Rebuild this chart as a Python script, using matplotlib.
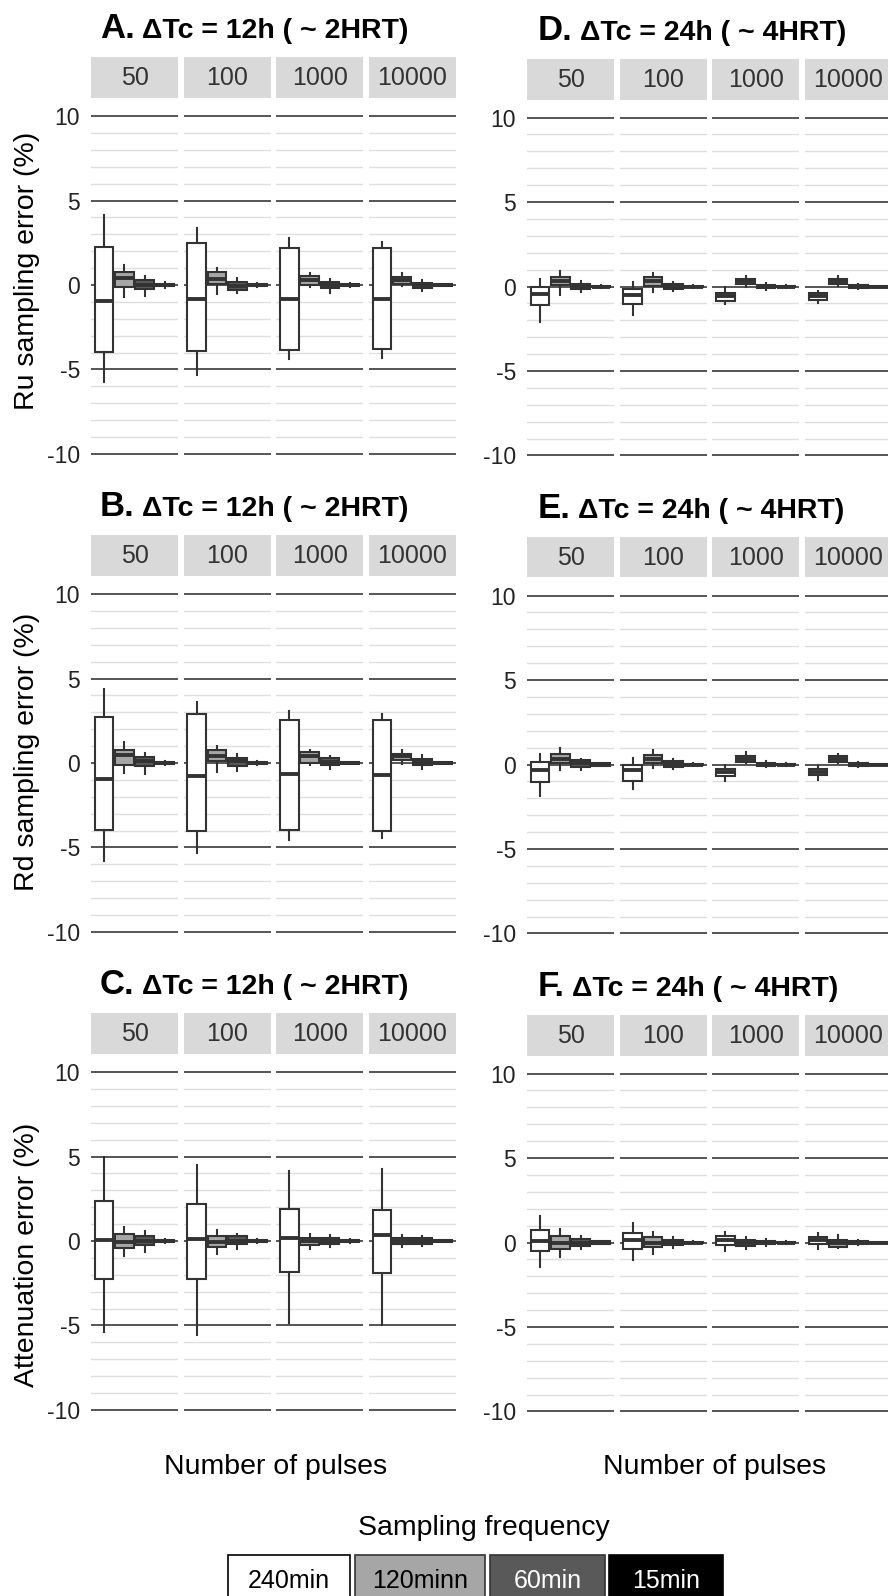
import matplotlib.pyplot as plt
from matplotlib.patches import Rectangle

plt.rcParams['font.family'] = ['Liberation Sans', 'DejaVu Sans']
plt.rcParams['axes.unicode_minus'] = False

# facets (number of pulses) and box groups (sampling frequency)
pulses = ['50', '100', '1000', '10000']
freqs = ['240min', '120minn', '60min', '15min']
freq_colors = ['#ffffff', '#a6a6a6', '#595959', '#000000']

# each panel: one row per pulse count, one (whisker low, q1, median, q3, whisker high) per frequency
ru_12h = [
    [(-5.72, -3.95, -0.93, 2.27, 4.14), (-0.69, -0.14, 0.40, 0.75, 1.18), (-0.65, -0.25, 0.0, 0.30, 0.53), (-0.15, -0.06, 0.0, 0.06, 0.15)],
    [(-5.33, -3.90, -0.85, 2.50, 3.35), (-0.53, 0.06, 0.34, 0.79, 0.99), (-0.45, -0.30, -0.05, 0.20, 0.40), (-0.12, -0.05, 0.0, 0.05, 0.12)],
    [(-4.40, -3.85, -0.85, 2.20, 2.76), (-0.14, -0.02, 0.30, 0.53, 0.73), (-0.45, -0.20, -0.02, 0.16, 0.34), (-0.10, -0.04, 0.0, 0.04, 0.10)],
    [(-4.34, -3.80, -0.85, 2.17, 2.56), (-0.06, 0.06, 0.30, 0.45, 0.69), (-0.35, -0.20, -0.03, 0.14, 0.30), (-0.08, -0.03, 0.0, 0.03, 0.08)],
]
rd_12h = [
    [(-5.78, -3.98, -0.94, 2.71, 4.41), (-0.59, -0.10, 0.49, 0.78, 1.27), (-0.63, -0.16, 0.10, 0.33, 0.59), (-0.12, -0.06, 0.0, 0.06, 0.12)],
    [(-5.35, -4.04, -0.78, 2.90, 3.63), (-0.53, 0.10, 0.39, 0.78, 0.98), (-0.45, -0.16, 0.10, 0.29, 0.53), (-0.10, -0.05, 0.0, 0.05, 0.10)],
    [(-4.57, -3.96, -0.65, 2.55, 3.10), (-0.10, 0.0, 0.39, 0.63, 0.78), (-0.35, -0.14, 0.06, 0.27, 0.43), (-0.08, -0.04, 0.0, 0.04, 0.08)],
    [(-4.45, -4.02, -0.69, 2.55, 2.90), (-0.04, 0.20, 0.39, 0.55, 0.78), (-0.35, -0.12, 0.06, 0.25, 0.49), (-0.08, -0.03, 0.0, 0.03, 0.08)],
]
att_12h = [
    [(-5.38, -2.23, 0.04, 2.35, 4.97), (-0.91, -0.39, -0.06, 0.39, 0.83), (-0.65, -0.26, 0.0, 0.28, 0.57), (-0.12, -0.08, 0.0, 0.08, 0.12)],
    [(-5.58, -2.23, 0.14, 2.21, 4.48), (-0.75, -0.35, -0.06, 0.32, 0.67), (-0.45, -0.20, 0.0, 0.28, 0.43), (-0.10, -0.06, 0.0, 0.06, 0.10)],
    [(-4.86, -1.83, 0.20, 1.91, 4.14), (-0.45, -0.26, 0.0, 0.20, 0.43), (-0.35, -0.20, 0.0, 0.18, 0.34), (-0.10, -0.06, 0.0, 0.06, 0.10)],
    [(-5.00, -1.89, 0.34, 1.85, 4.28), (-0.35, -0.20, 0.0, 0.20, 0.35), (-0.30, -0.18, 0.0, 0.18, 0.30), (-0.08, -0.05, 0.0, 0.05, 0.08)],
]
ru_24h = [
    [(-2.10, -1.12, -0.47, -0.04, 0.45), (-0.53, 0.06, 0.30, 0.59, 0.94), (-0.30, -0.16, 0.0, 0.16, 0.30), (-0.10, -0.05, 0.0, 0.05, 0.10)],
    [(-1.71, -1.06, -0.49, -0.16, 0.26), (-0.30, 0.02, 0.30, 0.55, 0.79), (-0.25, -0.14, 0.0, 0.16, 0.25), (-0.08, -0.04, 0.0, 0.04, 0.08)],
    [(-1.06, -0.83, -0.59, -0.39, 0.0), (0.0, 0.12, 0.30, 0.43, 0.65), (-0.20, -0.08, 0.0, 0.10, 0.20), (-0.06, -0.03, 0.0, 0.03, 0.06)],
    [(-0.98, -0.77, -0.59, -0.39, -0.24), (0.04, 0.12, 0.30, 0.43, 0.65), (-0.15, -0.08, 0.0, 0.08, 0.15), (-0.05, -0.03, 0.0, 0.03, 0.05)],
]
rd_24h = [
    [(-1.86, -1.06, -0.33, 0.12, 0.65), (-0.33, 0.10, 0.35, 0.65, 1.00), (-0.33, -0.14, 0.06, 0.25, 0.35), (-0.10, -0.06, 0.0, 0.06, 0.10)],
    [(-1.47, -0.96, -0.33, -0.04, 0.39), (-0.18, 0.10, 0.33, 0.59, 0.88), (-0.27, -0.14, 0.04, 0.22, 0.35), (-0.08, -0.04, 0.0, 0.04, 0.08)],
    [(-0.98, -0.69, -0.45, -0.24, 0.0), (0.06, 0.14, 0.33, 0.53, 0.75), (-0.15, -0.08, 0.0, 0.10, 0.20), (-0.06, -0.03, 0.0, 0.03, 0.06)],
    [(-0.92, -0.63, -0.43, -0.24, -0.10), (0.06, 0.14, 0.33, 0.49, 0.65), (-0.12, -0.06, 0.0, 0.08, 0.15), (-0.05, -0.03, 0.0, 0.03, 0.05)],
]
att_24h = [
    [(-1.46, -0.53, 0.06, 0.75, 1.57), (-0.87, -0.39, 0.0, 0.39, 0.79), (-0.39, -0.20, 0.0, 0.20, 0.39), (-0.10, -0.06, 0.0, 0.06, 0.10)],
    [(-1.02, -0.37, 0.12, 0.59, 1.18), (-0.67, -0.28, 0.0, 0.31, 0.65), (-0.30, -0.16, 0.0, 0.16, 0.30), (-0.08, -0.05, 0.0, 0.05, 0.08)],
    [(-0.49, -0.14, 0.16, 0.39, 0.63), (-0.39, -0.20, -0.04, 0.12, 0.35), (-0.20, -0.10, 0.0, 0.10, 0.20), (-0.06, -0.04, 0.0, 0.04, 0.06)],
    [(-0.37, -0.10, 0.16, 0.31, 0.55), (-0.33, -0.24, -0.04, 0.12, 0.45), (-0.15, -0.08, 0.0, 0.08, 0.15), (-0.05, -0.03, 0.0, 0.03, 0.05)],
]

panel_letters = ['A.', 'B.', 'C.', 'D.', 'E.', 'F.']
subtitles = ['ΔTc = 12h ( ~ 2HRT)'] * 3 + ['ΔTc = 24h ( ~ 4HRT)'] * 3
ylabels = ['Ru sampling error (%)', 'Rd sampling error (%)', 'Attenuation error (%)']
panels = [ru_12h, rd_12h, att_12h, ru_24h, rd_24h, att_24h]
yticks = [-10, -5, 0, 5, 10]

W, H = 888, 1596
fig = plt.figure(figsize=(W / 100, H / 100), dpi=100)

# overlay in pixel units for titles, labels and legend
ov = fig.add_axes([0, 0, 1, 1])
ov.set_xlim(0, W)
ov.set_ylim(H, 0)
ov.axis('off')


def px_rect(x, y, w, h):
    return [x / W, 1 - (y + h) / H, w / W, h / H]


col_x = [91, 527]
row_y = [57, 535, 1013]
facet_w, facet_step = 87, 92.6
strip_h, panel_h = 41, 374
ylab_y = [271, 752, 1255]

fig.canvas.draw()
renderer = fig.canvas.get_renderer()

for p, data in enumerate(panels):
    col, row = divmod(p, 3)
    x0 = col_x[col]
    y0 = row_y[row] + (1.5 if col == 1 else 0)

    # title: bold panel letter followed by the subtitle
    letter = ov.text(x0 + 9 + (2 if col == 1 else 0), y0 - 19, panel_letters[p], fontsize=25,
                     fontweight='bold', ha='left', va='baseline')
    bb = letter.get_window_extent(renderer)
    ov.text(bb.x1 + 7, y0 - 19, subtitles[p], fontsize=20.5, fontweight='bold',
            ha='left', va='baseline')

    for f, stats in enumerate(data):
        fx = x0 + f * facet_step
        # strip
        sax = fig.add_axes(px_rect(fx, y0, facet_w, strip_h))
        sax.set_facecolor('#d9d9d9')
        sax.set_xticks([])
        sax.set_yticks([])
        for s in sax.spines.values():
            s.set_visible(False)
        sax.text(0.5, 0.48, pulses[f], transform=sax.transAxes, ha='center', va='center',
                 fontsize=18, color='#333333')

        ax = fig.add_axes(px_rect(fx, y0 + strip_h, facet_w, panel_h))
        ax.set_facecolor('white')
        for s in ax.spines.values():
            s.set_visible(False)
        for v in range(-9, 10):
            if v % 5:
                ax.axhline(v, color='#dedede', lw=1.0, zorder=0)
        for v in yticks:
            ax.axhline(v, color='#555555', lw=1.4, zorder=0.5)

        bxp_stats = [dict(whislo=s[0], q1=s[1], med=s[2], q3=s[3], whishi=s[4], fliers=[], label=lab)
                     for s, lab in zip(stats, freqs)]
        bp = ax.bxp(bxp_stats, positions=range(4), widths=0.92, patch_artist=True,
                    showcaps=False, showfliers=False,
                    boxprops=dict(edgecolor='#333333', linewidth=1.5),
                    whiskerprops=dict(color='#333333', linewidth=1.5),
                    medianprops=dict(color='#333333', linewidth=2.8))
        for patch, c in zip(bp['boxes'], freq_colors):
            patch.set_facecolor(c)

        ax.set_xlim(-0.65, 3.65)
        ax.set_ylim(-11.07, 11.07)
        ax.set_xticks([])
        ax.set_yticks(yticks)
        ax.tick_params(axis='y', length=0, pad=8, labelsize=16.5, labelcolor='#222222')
        if f > 0:
            ax.set_yticklabels([])

    if col == 0:
        ov.text(27, ylab_y[row], ylabels[row], rotation=90, fontsize=20.5,
                ha='center', va='center')

# x axis titles
ov.text(276, 1474, 'Number of pulses', fontsize=20.5, ha='center', va='baseline')
ov.text(715, 1474, 'Number of pulses', fontsize=20.5, ha='center', va='baseline')

# legend
ov.text(484, 1535, 'Sampling frequency', fontsize=20.5, ha='center', va='baseline')
leg_x = [228, 355, 490, 609]
leg_w = [122, 130, 115, 114]
leg_edge = ['#000000', '#333333', '#333333', '#000000']
leg_text = ['black', 'black', 'white', 'white']
for lab, c, x, w, ec, tc in zip(freqs, freq_colors, leg_x, leg_w, leg_edge, leg_text):
    ov.add_patch(Rectangle((x, 1555), w, 60, facecolor=c, edgecolor=ec, lw=1.2))
    ov.text(x + w / 2, 1588, lab, fontsize=18, color=tc, ha='center', va='baseline')

fig.savefig('out.png', dpi=100)
